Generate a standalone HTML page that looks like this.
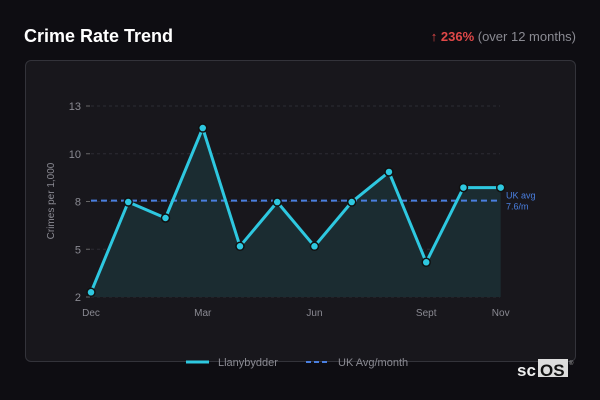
<!DOCTYPE html>
<html><head><meta charset="utf-8"><style>
body{margin:0;width:600px;height:400px;background:#0e0d12;font-family:"Liberation Sans",sans-serif;overflow:hidden;position:relative}
.t{position:absolute}
</style></head><body>
<div class="t" style="left:24px;top:26px;color:#fff;font-weight:bold;font-size:18px">Crime Rate Trend</div>
<div class="t" style="right:24px;top:29px;font-size:13px;color:#8a8a92"><span style="color:#e04848">↑ <b>236%</b></span> (over 12 months)</div>
<div class="t" style="left:25px;top:60px;width:549px;height:300px;border:1px solid #33333a;border-radius:6px;background:#18171c"></div>
<svg class="t" style="left:0;top:0" width="600" height="400">
<g id="grid"></g><g id="area"></g><g id="marks"></g>
<text transform="translate(54,201) rotate(-90)" text-anchor="middle" fill="#8a8a92" font-size="10">Crimes per 1,000</text>
<g>
<line x1="186" y1="362" x2="209" y2="362" stroke="#2ec8e0" stroke-width="3"/>
<text x="218" y="366" fill="#8a8a92" font-size="11">Llanybydder</text>
<line x1="306" y1="362" x2="330" y2="362" stroke="#4a7fe0" stroke-width="2" stroke-dasharray="5,3"/>
<text x="338" y="366" fill="#8a8a92" font-size="11">UK Avg/month</text>
</g>
<g>
<text x="517" y="376" fill="#eee" font-size="17" font-weight="bold">sc</text>
<rect x="538" y="359" width="30" height="18" fill="#ddd"/>
<text x="540" y="376" fill="#111" font-size="17" font-weight="bold">OS</text>
<text x="569" y="365" fill="#aaa" font-size="6">®</text>
</g>
</svg>
<script>
const months=["Dec","Jan","Feb","Mar","Apr","May","Jun","Jul","Aug","Sep","Oct","Nov"];
const values=[2.27,7.47,6.55,11.73,4.92,7.47,4.92,7.47,9.2,4.0,8.3,8.3];
const ukAvg=7.55;
const yTicks=[2,4.75,7.5,10.25,13];
const yTickLabels=["2","5","8","10","13"];
const xTickIdx=[0,3,6,9,11];
const xTickLabels=["Dec","Mar","Jun","Sept","Nov"];
const NS="http://www.w3.org/2000/svg";
const X=i=>91+i*(500.7-91)/(months.length-1);
const Y=v=>297-(v-2)*(297-106)/11;
function mk(tag,attrs,parent,txt){const e=document.createElementNS(NS,tag);for(const k in attrs)e.setAttribute(k,attrs[k]);if(txt!==undefined)e.textContent=txt;parent.appendChild(e);return e;}
const grid=document.getElementById('grid'),area=document.getElementById('area'),marks=document.getElementById('marks');
yTicks.forEach((t,i)=>{
 const y=Y(t);
 const g=mk('line',{x1:91,x2:500,y1:y,y2:y,stroke:'#2c2c33','stroke-dasharray':'3,3'},grid);
 
 
 mk('line',{x1:86,x2:90,y1:y,y2:y,stroke:'#666'},grid);
 const l=mk('text',{x:81,y:y+4,'text-anchor':'end',fill:'#8a8a92','font-size':11},grid,yTickLabels[i]);
 
 
});
xTickIdx.forEach((idx,i)=>{
 const l=mk('text',{x:X(idx),y:316,'text-anchor':'middle',fill:'#8a8a92','font-size':10},grid,xTickLabels[i]);
 
 
});
const pts=values.map((v,i)=>X(i)+','+Y(v)).join(' ');
const a=mk('polygon',{points:X(0)+','+Y(2)+' '+pts+' '+X(values.length-1)+','+Y(2),fill:'#1b2c31'},area);


const ua=mk('line',{x1:91,x2:500,y1:Y(ukAvg),y2:Y(ukAvg),stroke:'#4a7fe0','stroke-width':2,'stroke-dasharray':'6,4'},marks);


const ul=mk('text',{x:506,y:Y(ukAvg)-2,fill:'#4a7fe0','font-size':9},marks,'UK avg');


mk('text',{x:506,y:Y(ukAvg)+9,fill:'#4a7fe0','font-size':9},marks,ukAvg.toFixed(1)==='7.5'?'7.6/m':ukAvg.toFixed(1)+'/m');
const ln=mk('polyline',{points:pts,fill:'none',stroke:'#2ec8e0','stroke-width':3,'stroke-linejoin':'round'},marks);


values.forEach((v,i)=>{
 const c=mk('circle',{cx:X(i),cy:Y(v),r:4,fill:'#2ec8e0',stroke:'#111','stroke-width':1.5},marks);
 
 
});
</script>
</body></html>
